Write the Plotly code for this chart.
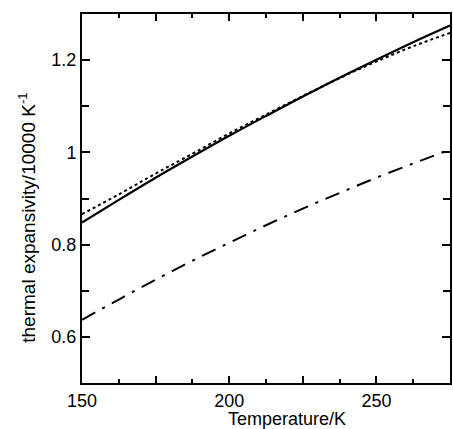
import plotly.graph_objects as go

temperature = [150, 162.5, 175, 187.5, 200, 212.5, 225, 237.5, 250, 262.5, 275]
solid_series = [0.848, 0.897, 0.945, 0.991, 1.036, 1.079, 1.121, 1.162, 1.201, 1.239, 1.275]
dotted_series = [0.866, 0.909, 0.954, 0.997, 1.041, 1.082, 1.122, 1.161, 1.197, 1.230, 1.259]
dashdot_series = [0.637, 0.681, 0.724, 0.765, 0.804, 0.842, 0.878, 0.912, 0.945, 0.976, 1.006]

x_labeled_ticks = [150, 200, 250]
x_unlabeled_ticks = [175, 225, 275]
x_minor = [162.5, 187.5, 212.5, 237.5, 262.5]
y_tickvals = [0.6, 0.8, 1.0, 1.2]
y_ticktext = ["0.6", "0.8", "1", "1.2"]
y_minor = [0.7, 0.9, 1.1]

FONT = "Liberation Sans, Arial, Helvetica, sans-serif"

fig = go.Figure()
fig.add_trace(go.Scatter(x=temperature, y=dotted_series, mode="lines",
                         line=dict(color="black", width=2, dash="3px,3px", shape="spline")))
fig.add_trace(go.Scatter(x=temperature, y=solid_series, mode="lines",
                         line=dict(color="black", width=2.2, shape="spline")))
fig.add_trace(go.Scatter(x=temperature, y=dashdot_series, mode="lines",
                         line=dict(color="black", width=2, dash="15px,8px,3px,8px", shape="spline")))
fig.add_trace(go.Scatter(x=[150, 275], y=[0.5, 0.5], xaxis="x2", mode="none",
                         hoverinfo="skip", showlegend=False))

fig.update_layout(
    width=453, height=429,
    margin=dict(l=82, r=1, t=14, b=46),
    paper_bgcolor="white", plot_bgcolor="white",
    showlegend=False,
    font=dict(family=FONT, color="black", size=18),
    xaxis=dict(range=[150, 275], tickmode="array", tickvals=x_labeled_ticks,
               ticktext=[str(v) for v in x_labeled_ticks],
               ticks="inside", ticklen=7, tickwidth=1.5, tickcolor="black",
               showline=True, linewidth=2, linecolor="black", mirror="ticks",
               showgrid=False, zeroline=False,
               tickfont=dict(size=18),
               minor=dict(tickmode="array", tickvals=x_minor, ticks="inside", ticklen=4,
                          tickwidth=1.5, tickcolor="black", showgrid=False)),
    xaxis2=dict(overlaying="x", matches="x", side="bottom", tickmode="array",
                tickvals=x_unlabeled_ticks, showticklabels=False,
                ticks="inside", ticklen=7, tickwidth=1.5, tickcolor="black",
                showline=False, mirror="ticks", showgrid=False, zeroline=False),
    yaxis=dict(range=[0.5, 1.3], tickmode="array", tickvals=y_tickvals, ticktext=y_ticktext,
               ticks="inside", ticklen=8, tickwidth=1.5, tickcolor="black",
               showline=True, linewidth=2, linecolor="black", mirror="ticks",
               showgrid=False, zeroline=False,
               tickfont=dict(size=18),
               minor=dict(tickmode="array", tickvals=y_minor, ticks="inside", ticklen=7,
                          tickwidth=1.5, tickcolor="black", showgrid=False)),
    annotations=[
        dict(text="Temperature/K", xref="paper", yref="paper", x=0.557, y=0,
             xanchor="center", yanchor="top", yshift=-24, showarrow=False,
             font=dict(size=18, family=FONT)),
        dict(text="thermal expansivity/10000 K<sup>-1</sup>", xref="paper", yref="paper",
             x=-0.150, y=0.45, xanchor="center", yanchor="middle", textangle=-90,
             showarrow=False, font=dict(size=19, family=FONT)),
    ],
)

fig.write_html("out.html", config={"displayModeBar": False},
               post_script="document.body.style.margin='0';document.body.style.overflow='hidden';")
